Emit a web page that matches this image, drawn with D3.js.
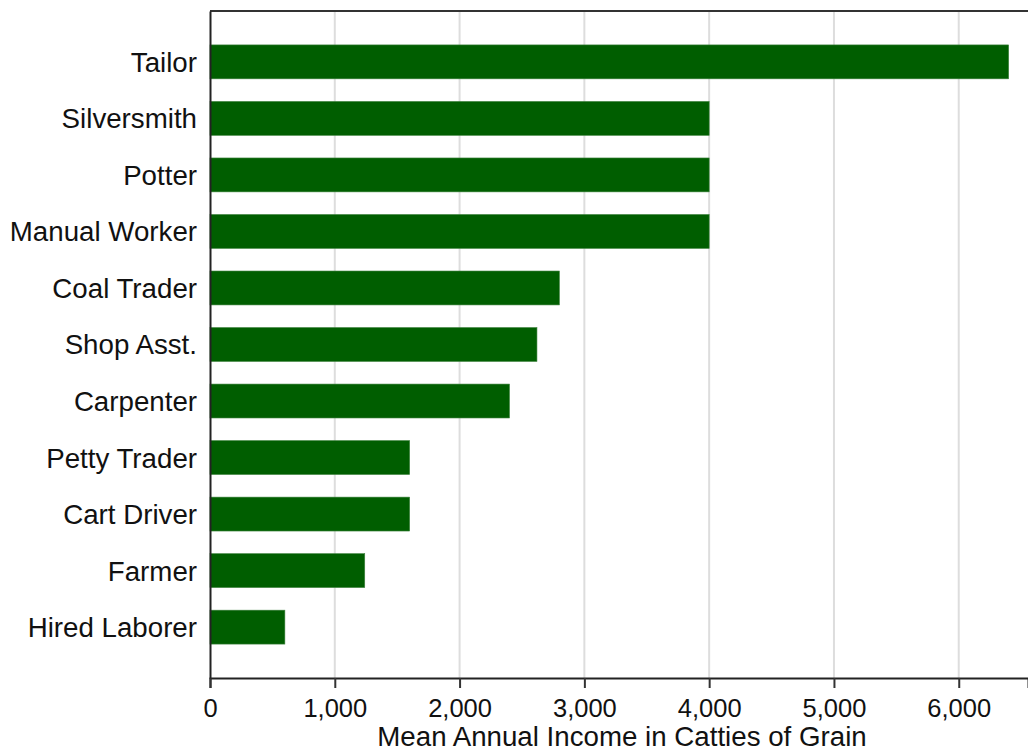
<!DOCTYPE html>
<html>
<head>
<meta charset="utf-8">
<script src="https://cdn.jsdelivr.net/npm/d3@7"></script>
<style>
html,body{margin:0;padding:0;background:#fff;}
svg{display:block;}
text{font-family:"Liberation Sans",Arial,sans-serif;fill:#111;}
</style>
</head>
<body>
<svg id="chart" width="1028" height="751"></svg>
<script>
const categories = ["Tailor","Silversmith","Potter","Manual Worker","Coal Trader","Shop Asst.","Carpenter","Petty Trader","Cart Driver","Farmer","Hired Laborer"];
const values = [6400,4000,4000,4000,2800,2620,2400,1600,1600,1240,600];
const tickValues = [0,1000,2000,3000,4000,5000,6000];
const xTitle = "Mean Annual Income in Catties of Grain";

const svg = d3.select("#chart");
const mLeft = 210, mRight = 1028, mTop = 11, mBottom = 678;

const x = d3.scaleLinear().domain([0, 6555]).range([mLeft, mRight]);
const y = d3.scaleBand().domain(categories).range([mTop, mBottom]).paddingInner(0.4).paddingOuter(0.6);

// gridlines
svg.append("g").selectAll("line").data(tickValues.filter(d => d > 0)).join("line")
  .attr("x1", d => x(d)).attr("x2", d => x(d))
  .attr("y1", mTop).attr("y2", mBottom)
  .attr("stroke", "#dddddd").attr("stroke-width", 2);

// bars
svg.append("g").selectAll("rect").data(categories).join("rect")
  .attr("x", x(0))
  .attr("y", d => y(d))
  .attr("width", (d, i) => x(values[i]) - x(0))
  .attr("height", y.bandwidth())
  .attr("fill", "#005e00")
  .attr("stroke", "#3f833f").attr("stroke-width", 0.6);

// top border
svg.append("line").attr("x1", mLeft).attr("x2", mRight).attr("y1", mTop).attr("y2", mTop)
  .attr("stroke", "#333").attr("stroke-width", 2);

// x axis
const xAxis = d3.axisBottom(x).tickValues(tickValues).tickFormat(d3.format(",")).tickSize(10).tickPadding(11);
const gx = svg.append("g").attr("transform", `translate(0,${mBottom})`).call(xAxis);
gx.select(".domain").attr("stroke", "#222").attr("stroke-width", 2);
gx.selectAll(".tick line").attr("stroke", "#333").attr("stroke-width", 2);
gx.selectAll(".tick text").style("font-size", "25.5px").attr("fill", "#111");

// y axis
const yAxis = d3.axisLeft(y).tickSize(0).tickPadding(13);
const gy = svg.append("g").attr("transform", `translate(${mLeft},0)`).call(yAxis);
gy.select(".domain").attr("stroke", "#222").attr("stroke-width", 2);
gy.selectAll(".tick text").style("font-size", "27.7px").attr("fill", "#111").attr("dy", "0.36em");

// x title
svg.append("text").attr("x", (mLeft + mRight) / 2 + 3).attr("y", 746)
  .attr("text-anchor", "middle").style("font-size", "27.7px").text(xTitle);
</script>
</body>
</html>
